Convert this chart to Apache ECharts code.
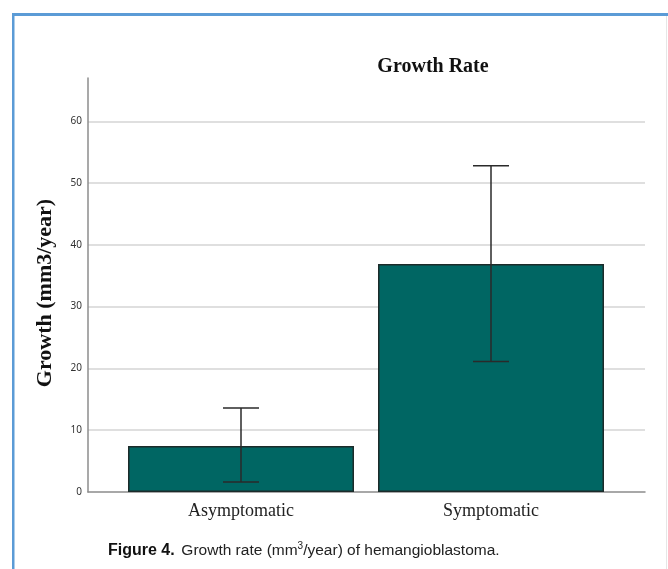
<!DOCTYPE html>
<html>
<head>
<meta charset="utf-8">
<script src="https://cdn.jsdelivr.net/npm/echarts@6/dist/echarts.min.js"></script>
<style>
  html, body { margin: 0; padding: 0; background: #fff; }
  #chart { width: 668px; height: 569px; }
</style>
</head>
<body>
<div id="chart"></div>
<script>
// Growth rate of hemangioblastoma by symptom status
const categories = ['Asymptomatic', 'Symptomatic'];
const growthMean = [7.45, 36.9];
const errorLow = [1.6, 21.1];
const errorHigh = [13.6, 52.8];
const yTicks = [0, 10, 20, 30, 40, 50, 60];

const Y_MAX = 67;
const chart = echarts.init(document.getElementById('chart'), null, { renderer: 'canvas' });

const errorData = categories.map((c, i) => [i, errorLow[i], errorHigh[i]]);

const option = {
  animation: false,
  backgroundColor: '#ffffff',
  grid: [
    { left: 88, right: 23, top: 78, bottom: 77 },
    { left: 116, right: 52, top: 78, bottom: 77 }
  ],
  xAxis: [
    {
      gridIndex: 0, type: 'value', min: 0, max: 1,
      axisLine: { show: true, onZero: false, lineStyle: { color: '#8c8c8c', width: 1.5 } },
      axisTick: { show: false }, axisLabel: { show: false }, splitLine: { show: false }
    },
    {
      gridIndex: 1, type: 'category', data: categories,
      axisLine: { show: false }, axisTick: { show: false },
      axisLabel: {
        margin: 10, color: '#222',
        fontFamily: '"Liberation Serif", "DejaVu Serif", serif', fontSize: 18
      }
    }
  ],
  yAxis: [
    {
      gridIndex: 0, type: 'value', min: 0, max: Y_MAX, interval: 10,
      axisLine: { show: true, lineStyle: { color: '#8c8c8c', width: 1.5 } },
      axisTick: { show: false },
      axisLabel: {
        showMaxLabel: false, margin: 6, color: '#333', fontSize: 10,
        fontFamily: '"Noto Sans", "DejaVu Sans", sans-serif',
        formatter: v => (yTicks.indexOf(v) >= 0 ? String(v) : '')
      },
      splitLine: { show: true, showMaxLine: false, showMinLine: false, lineStyle: { color: '#d4d4d4', width: 1.5 } }
    },
    {
      gridIndex: 1, type: 'value', min: 0, max: Y_MAX, interval: 10,
      axisLine: { show: false }, axisTick: { show: false },
      axisLabel: { show: false }, splitLine: { show: false }
    }
  ],
  series: [
    {
      type: 'bar', xAxisIndex: 1, yAxisIndex: 1,
      data: growthMean, barWidth: 226,
      itemStyle: { color: '#006663', borderColor: '#1c2b2a', borderWidth: 1.5 }
    },
    {
      type: 'custom', xAxisIndex: 1, yAxisIndex: 1,
      data: errorData, z: 5,
      renderItem: function (params, api) {
        const x = api.value(0);
        const lo = api.coord([x, api.value(1)]);
        const hi = api.coord([x, api.value(2)]);
        const half = 18;
        const style = { stroke: '#2a2a2a', lineWidth: 1.5 };
        return {
          type: 'group',
          children: [
            { type: 'line', shape: { x1: lo[0], y1: lo[1], x2: hi[0], y2: hi[1] }, style: style },
            { type: 'line', shape: { x1: hi[0] - half, y1: hi[1], x2: hi[0] + half, y2: hi[1] }, style: style },
            { type: 'line', shape: { x1: lo[0] - half, y1: lo[1], x2: lo[0] + half, y2: lo[1] }, style: style }
          ]
        };
      }
    }
  ],
  graphic: [
    // frame
    { type: 'rect', shape: { x: 12, y: 13, width: 660, height: 3 }, style: { fill: '#5b9bd6' }, silent: true },
    { type: 'rect', shape: { x: 12, y: 13, width: 2.5, height: 560 }, style: { fill: '#5b9bd6' }, silent: true },
    { type: 'rect', shape: { x: 666, y: 16, width: 1, height: 560 }, style: { fill: '#e6e6e6' }, silent: true },
    // y-axis title
    {
      type: 'text', x: 45, y: 293, rotation: Math.PI / 2,
      style: {
        text: 'Growth (mm3/year)', textAlign: 'center', textVerticalAlign: 'middle',
        font: 'bold 22px "Liberation Serif", "DejaVu Serif", serif', fill: '#111'
      }
    },
    // chart title
    {
      type: 'text', x: 433, y: 67,
      style: {
        text: 'Growth Rate', textAlign: 'center', textVerticalAlign: 'middle',
        font: 'bold 20px "Liberation Serif", "DejaVu Serif", serif', fill: '#111'
      }
    },
    // figure caption
    {
      type: 'text', x: 108, y: 551,
      style: {
        text: '{b|Figure 4.}  {n|Growth rate (mm}{s|3}{n|/year) of hemangioblastoma.}',
        textVerticalAlign: 'middle',
        rich: {
          b: { fontFamily: '"Liberation Sans Narrow", "Liberation Sans", sans-serif', fontWeight: 'bold', fontSize: 16, fill: '#111' },
          n: { fontFamily: '"Liberation Sans", "DejaVu Sans", sans-serif', fontSize: 15.5, fill: '#222' },
          s: { fontFamily: '"Liberation Sans", "DejaVu Sans", sans-serif', fontSize: 10, fill: '#222', padding: [0, 0, 10, 0] }
        }
      }
    }
  ]
};

chart.setOption(option);
</script>
</body>
</html>
